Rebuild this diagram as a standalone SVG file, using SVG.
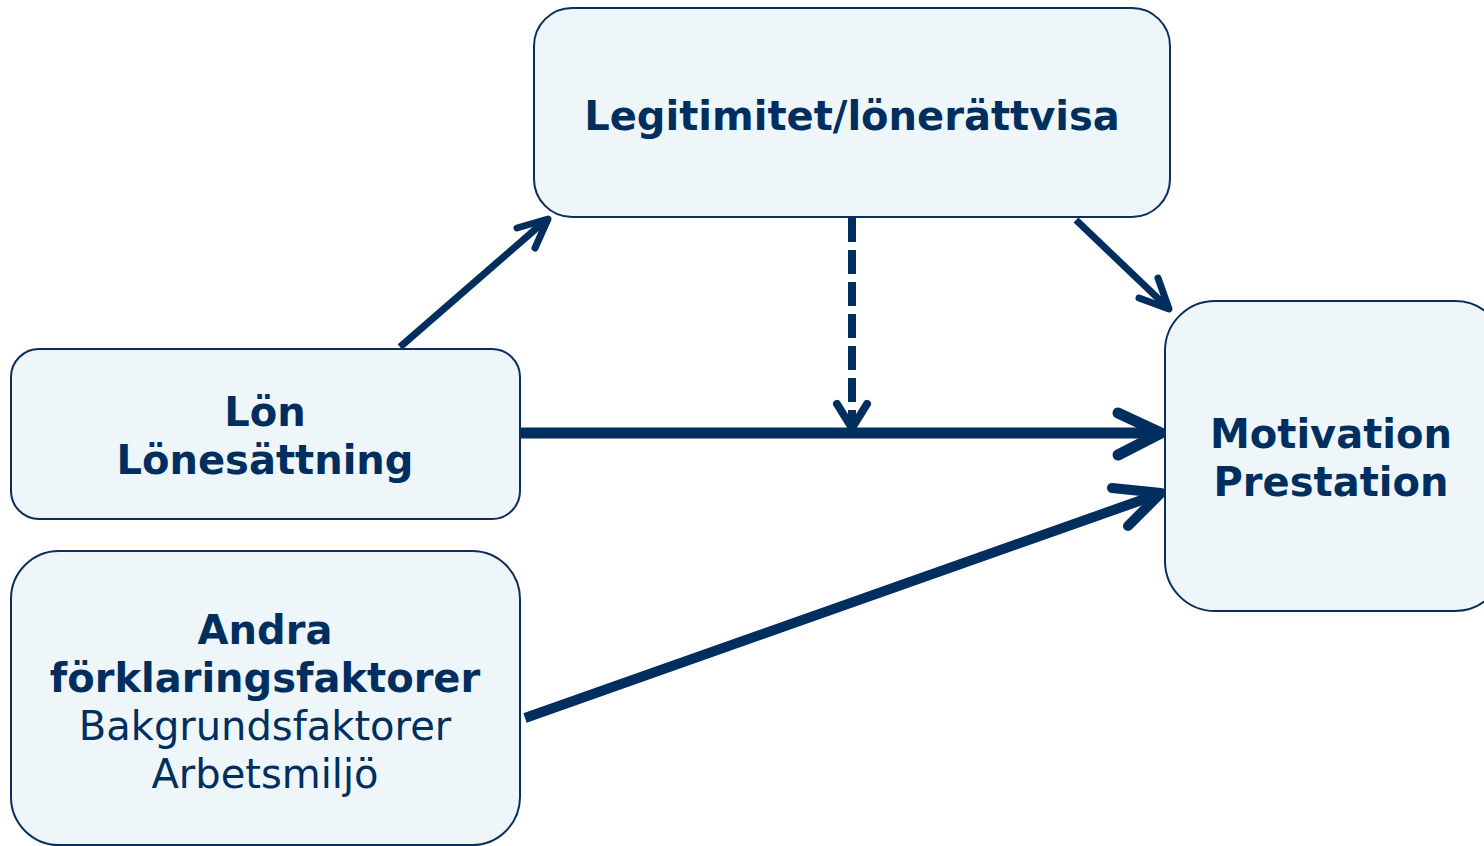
<svg xmlns="http://www.w3.org/2000/svg" width="1484" height="846" viewBox="0 0 1484 846">
<style>
.box{fill:#EEF6F9;stroke:#0A2F5C;stroke-width:2}
.t{font-family:"DejaVu Sans",Verdana,sans-serif;font-size:40px;fill:#002E5E;text-anchor:middle}
.b{font-weight:bold}
.c{fill:none;stroke:#002E5E;stroke-linecap:round;stroke-linejoin:round}
</style>
<rect width="1484" height="846" fill="#FFFFFF"/>
<g id="connectors">
<line class="c" x1="400" y1="347" x2="546" y2="220" stroke-width="7" style="stroke-linecap:butt"/>
<polyline class="c" points="517,228 548,219 535,248" stroke-width="7"/>
<line class="c" x1="1076" y1="220" x2="1166" y2="306" stroke-width="7" style="stroke-linecap:butt"/>
<polyline class="c" points="1139,298 1169,309 1158,278" stroke-width="7"/>
<line class="c" x1="852" y1="218" x2="852" y2="424" stroke-width="8" stroke-dasharray="24 8" style="stroke-linecap:butt"/>
<polyline class="c" points="837,404 852,428 867,404" stroke-width="8"/>
<line class="c" x1="520" y1="433" x2="1158" y2="433" stroke-width="11" style="stroke-linecap:butt"/>
<polyline class="c" points="1118,413 1161,433 1118,455" stroke-width="11"/>
<line class="c" x1="525" y1="718" x2="1156" y2="495" stroke-width="10" style="stroke-linecap:butt"/>
<polyline class="c" points="1112,488 1161,493 1128,526" stroke-width="10"/>
</g>
<g id="legitimitet">
<rect class="box" x="534" y="8" width="636" height="209" rx="38" ry="38"/>
<text class="t b" x="852" y="130">Legitimitet/lönerättvisa</text>
</g>
<g id="lon">
<rect class="box" x="11" y="349" width="509" height="170" rx="28" ry="28"/>
<text class="t b" x="265" y="426">Lön</text>
<text class="t b" x="265" y="474">Lönesättning</text>
</g>
<g id="andra">
<rect class="box" x="11" y="551" width="509" height="294" rx="48" ry="48"/>
<text class="t b" x="265" y="644">Andra</text>
<text class="t b" x="265" y="692">förklaringsfaktorer</text>
<text class="t" x="265" y="740">Bakgrundsfaktorer</text>
<text class="t" x="265" y="788">Arbetsmiljö</text>
</g>
<g id="motivation">
<rect class="box" x="1165" y="301" width="340" height="310" rx="50" ry="50"/>
<text class="t b" x="1331" y="448">Motivation</text>
<text class="t b" x="1331" y="496">Prestation</text>
</g>
</svg>
